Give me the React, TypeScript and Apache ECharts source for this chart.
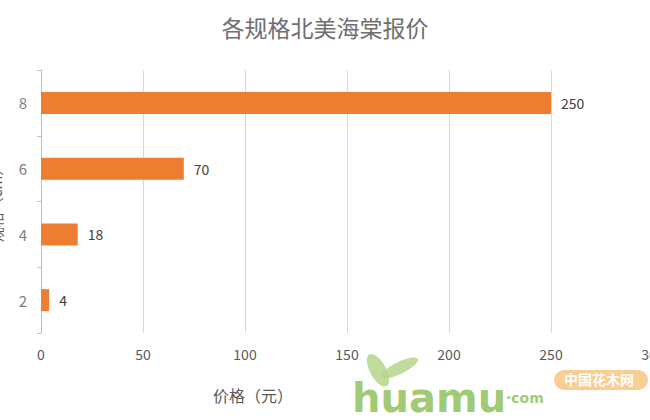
import React, { useEffect, useRef } from "react";
import * as echarts from "echarts";

const categories = ["2", "4", "6", "8"];
const prices = [4, 18, 70, 250];
const xTicks = [0, 50, 100, 150, 200, 250, 300];
const titleText = "各规格北美海棠报价";
const xName = "价格（元）";
const yName = "规格（cm）";

export default function App() {
  const ref = useRef<HTMLDivElement>(null);
  useEffect(() => {
    if (!ref.current) return;
    const chart = echarts.init(ref.current, null, { renderer: "svg" });
    const font = "'Noto Sans CJK SC', 'Noto Sans', sans-serif";
    chart.setOption({
      animation: false,
      backgroundColor: "#ffffff",
      title: {
        text: titleText,
        left: "center",
        top: 10,
        textStyle: { color: "#6f6f6f", fontSize: 23, fontWeight: "normal", fontFamily: font },
      },
      grid: { left: 41, right: -3, top: 70, bottom: 87, outerBoundsMode: "none", containLabel: false },
      xAxis: {
        type: "value",
        min: xTicks[0],
        max: xTicks[xTicks.length - 1],
        interval: 50,
        axisLine: { show: false },
        axisTick: { show: false },
        axisLabel: { color: "#595959", fontSize: 14, fontFamily: font, margin: 14 },
        splitLine: { lineStyle: { color: "#d9d9d9", width: 1 } },
      },
      yAxis: {
        type: "category",
        data: categories,
        name: yName,
        nameLocation: "middle",
        nameRotate: 90,
        nameGap: 38,
        nameTextStyle: { color: "#595959", fontSize: 15, fontFamily: font },
        axisLine: { show: true, lineStyle: { color: "#bfbfbf" } },
        axisTick: { show: true, length: 4, lineStyle: { color: "#bfbfbf" } },
        axisLabel: { color: "#7f7f7f", fontSize: 15, fontFamily: font, margin: 14 },
      },
      series: [
        {
          type: "bar",
          data: prices,
          barWidth: 22,
          itemStyle: { color: "#ED7D31" },
          label: {
            show: true,
            position: "right",
            distance: 10,
            color: "#404040",
            fontSize: 14,
            fontFamily: font,
          },
        },
      ],
      graphic: [
        {
          type: "text",
          left: 213,
          top: 387,
          style: { text: xName, fill: "#595959", fontSize: 16, fontFamily: font },
        },
        {
          type: "ellipse",
          shape: { cx: 378, cy: 370, rx: 8, ry: 18 },
          rotation: 0.5,
          originX: 378,
          originY: 370,
          style: { fill: "#b5d68a", opacity: 0.85 },
        },
        {
          type: "ellipse",
          shape: { cx: 400, cy: 368, rx: 20, ry: 6 },
          rotation: 0.45,
          originX: 400,
          originY: 368,
          style: { fill: "#b5d68a", opacity: 0.85 },
        },
        {
          type: "text",
          left: 352,
          top: 378,
          style: {
            text: "huamu",
            fill: "#8fc15a",
            fontSize: 40,
            fontWeight: "bold",
            fontFamily: "'DejaVu Sans', sans-serif",
            opacity: 0.85,
          },
        },
        {
          type: "text",
          left: 506,
          top: 391,
          style: {
            text: "·com",
            fill: "#8fc15a",
            fontSize: 14,
            fontWeight: "bold",
            fontFamily: "'DejaVu Sans', sans-serif",
            opacity: 0.85,
          },
        },
        {
          type: "rect",
          shape: { x: 554, y: 370, width: 94, height: 20, r: 10 },
          style: { fill: "#f7c680", opacity: 0.85 },
        },
        {
          type: "text",
          left: 564,
          top: 372,
          style: {
            text: "中国花木网",
            fill: "#ffffff",
            fontSize: 14,
            fontWeight: "bold",
            fontFamily: font,
          },
        },
      ],
    });
    return () => chart.dispose();
  }, []);
  return (
    <div
      ref={ref}
      style={{ position: "absolute", left: 0, top: 0, width: 650, height: 420 }}
    />
  );
}
